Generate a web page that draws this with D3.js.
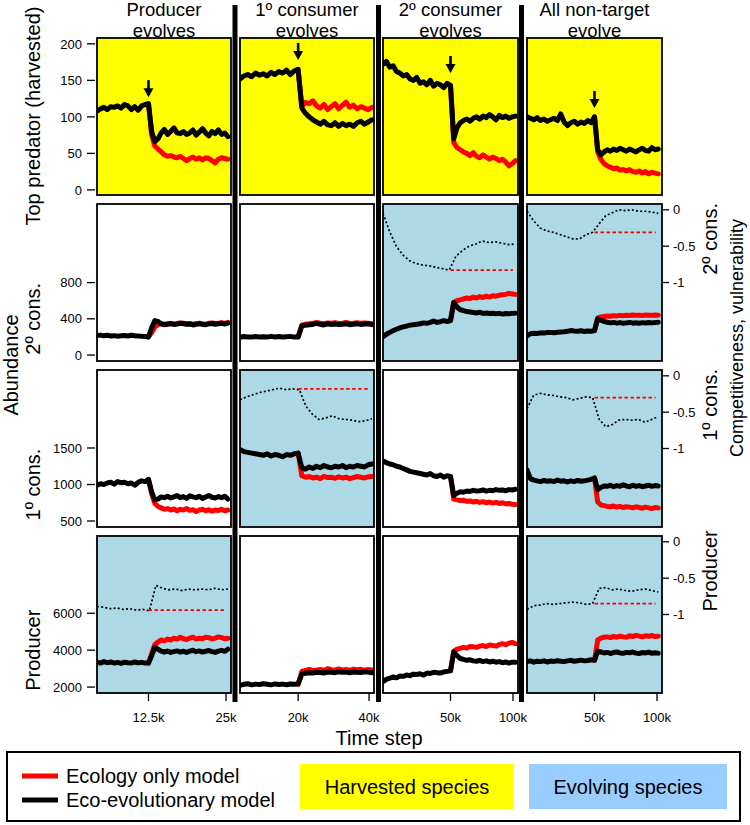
<!DOCTYPE html>
<html><head><meta charset="utf-8">
<script src="https://cdn.jsdelivr.net/npm/d3@7"></script>
<style>body{margin:0;background:#fff} text{font-family:"Liberation Sans", Arial, sans-serif;fill:#000}</style>
</head><body><svg id="c" width="750" height="825"></svg>
<script>
// ---------------- DATA ----------------
const colTitles = [["Producer","evolves"],["1º consumer","evolves"],["2º consumer","evolves"],["All non-target","evolve"]];
const leftRowLabels = ["Top predator (harvested)","2º cons.","1º cons.","Producer"];
const rightRowLabels = [null,"2º cons.","1º cons.","Producer"];
const timeStart = [4200, 3600, -4000, -4000];
const timePert  = [12500, 20000, 50000, 50000];
const timeEnd   = [25300, 40800, 102000, 101000];
const xDomains  = [[4200,25800],[3600,41400],[-4000,104000],[-4000,104000]];
const xTicks    = [[12500,25000],[20000,40000],[50000,100000],[50000,100000]];
const xTickLabels = [["12.5k","25k"],["20k","40k"],["50k","100k"],["50k","100k"]];
const yDomains  = [[-7,208],[-66,1668],[418,2568],[1679,10187]];
const yTicks    = [[0,50,100,150,200],[0,400,800],[500,1000,1500],[2000,4000,6000]];
const traitDomain = [-2.08,0.08];
const traitTicks = [0,-0.5,-1];
const traitTickLabels = ["0","-0.5","-1"];
// background: Y = harvested, B = evolving, W = none
const panelBg = [["Y","Y","Y","Y"],["W","W","B","B"],["W","B","W","B"],["B","W","W","B"]];
const arrowTip = [127,178,160,112];

// Top predator
const topPredPre = [
 [108,111,113,110,114,113,115,112,117,115,110,114,109,115,117,118],
 [152,156,158,155,160,157,159,156,161,158,162,160,164,158,163,165],
 [172,176,168,170,162,160,156,158,152,150,154,146,148,144,150,142,146,144,140,146,143],
 [100,98,96,99,95,97,94,96,98,95,104,93,88,92,94,90,93,91,95,92,100]];
const topPredEvo = [
 [118,80,66,70,78,83,76,80,85,78,77,80,76,78,82,75,79,84,78,74,80,77,82,76,78,73],
 [165,112,105,100,96,93,90,94,89,88,92,87,91,88,90,87,92,94,90,93,96],
 [143,70,85,92,95,97,94,98,100,97,101,99,103,100,96,102,99,101,98,100,101],
 [100,55,48,52,55,53,56,54,57,55,53,56,54,52,55,57,54,53,58,55,56]];
const topPredEco = [
 [118,75,60,56,52,48,46,47,45,44,46,43,40,43,45,42,44,41,44,43,40,37,42,44,43,42],
 [165,114,120,118,122,115,112,117,110,114,118,111,116,120,113,116,111,114,112,110,113],
 [143,65,58,55,52,50,47,51,46,44,48,45,42,45,43,40,42,38,33,36,40],
 [100,52,42,36,33,31,29,30,27,28,26,28,25,24,26,23,25,22,24,23,22]];
// 2nd consumer
const cons2Pre = [
 [215,220,212,218,210,214,208,212,216,210,218,213,210,206,205,200],
 [195,205,200,198,205,200,203,198,206,200,204,198,202,206,198,200],
 [200,230,250,270,285,300,310,320,330,335,340,345,355,350,360,375,360,368,380,370,380],
 [210,235,240,238,245,242,248,250,245,252,255,258,262,270,265,262,268,260,265,262,270]];
const cons2Evo = [
 [200,300,380,370,345,335,340,345,338,342,350,346,340,343,332,340,346,338,335,344,348,340,346,350,342,352],
 [200,320,330,335,338,350,340,332,345,338,342,336,340,345,335,340,346,338,342,345,335],
 [380,580,530,500,490,480,475,470,465,472,460,465,458,462,455,460,452,458,455,460,462],
 [270,400,385,370,362,355,360,352,358,350,355,360,352,356,350,358,354,360,355,358,362]];
const cons2Eco = [
 [200,250,310,335,345,340,345,350,342,348,355,350,345,348,340,347,352,345,340,350,355,348,352,358,350,360],
 [200,330,342,345,350,360,352,345,355,350,356,348,352,360,348,352,358,350,355,352,345],
 [380,580,600,610,620,630,625,640,630,645,635,650,640,655,650,660,665,670,680,675,670],
 [270,410,420,425,430,428,435,432,438,435,440,436,442,438,440,436,442,440,438,442,440]];
// 1st consumer
const cons1Pre = [
 [990,1010,1000,1020,1030,1005,1040,1025,1030,1010,1020,990,1030,1050,1040,1070],
 [1480,1450,1440,1430,1420,1410,1400,1420,1390,1410,1400,1380,1410,1400,1420,1430],
 [1320,1300,1280,1270,1250,1240,1220,1200,1180,1170,1160,1150,1140,1130,1150,1120,1110,1130,1100,1120,1110],
 [1200,1080,1060,1050,1040,1055,1045,1050,1040,1060,1045,1050,1035,1050,1040,1055,1045,1050,1060,1070,1090]];
const cons1Evo = [
 [1070,900,790,800,830,820,840,815,830,850,820,835,810,845,830,820,840,810,830,850,825,815,835,820,840,800],
 [1430,1230,1210,1240,1220,1250,1230,1260,1240,1230,1250,1240,1260,1230,1250,1240,1260,1250,1240,1270,1280],
 [1110,850,880,900,895,910,905,920,910,915,925,910,920,915,930,920,925,915,930,925,935],
 [1090,930,960,980,975,990,970,985,975,995,980,970,990,975,985,970,980,990,975,985,980]];
const cons1Eco = [
 [1070,870,740,700,680,660,670,650,665,640,660,650,670,645,655,630,650,660,640,655,635,650,645,660,640,650],
 [1430,1120,1100,1110,1090,1100,1080,1110,1095,1100,1085,1105,1090,1100,1080,1095,1110,1100,1090,1105,1110],
 [1110,800,790,780,785,770,775,760,770,755,765,750,760,745,755,740,750,735,740,730,725],
 [1090,760,720,710,700,695,705,690,700,685,695,690,680,695,685,675,690,680,670,685,680]];
// Producer
const prodPre = [
 [3350,3300,3380,3320,3360,3300,3340,3280,3350,3320,3300,3360,3310,3340,3300,3300],
 [2100,2150,2180,2120,2160,2140,2180,2150,2120,2170,2140,2160,2130,2170,2150,2160],
 [2300,2420,2480,2550,2500,2600,2580,2650,2620,2700,2680,2720,2650,2760,2740,2800,2780,2760,2820,2850,2880],
 [3380,3420,3350,3400,3380,3420,3360,3410,3390,3430,3400,3380,3420,3450,3400,3430,3460,3420,3440,3480,3450]];
const prodEvo = [
 [3300,3700,4150,4050,3950,3900,3950,3880,3920,3960,3900,3940,3880,3950,4000,3920,3960,3900,3940,3980,3920,3880,3950,3990,3940,4050],
 [2160,2700,2750,2780,2760,2800,2790,2760,2820,2800,2780,2830,2800,2810,2780,2820,2800,2790,2830,2810,2780],
 [2880,3900,3700,3550,3500,3450,3480,3420,3400,3450,3380,3420,3360,3400,3350,3380,3320,3360,3300,3350,3340],
 [3450,3950,3900,3850,3880,3820,3870,3900,3850,3830,3880,3860,3900,3840,3820,3870,3850,3890,3830,3860,3840]];
const prodEco = [
 [3300,3800,4300,4450,4550,4500,4600,4550,4650,4600,4700,4620,4580,4650,4700,4600,4650,4620,4700,4680,4600,4650,4720,4680,4620,4650],
 [2160,2850,2900,2950,2900,2920,2960,2900,3000,2940,2920,2980,2930,2950,2900,2970,2940,2960,2920,2950,2930],
 [2880,3950,4050,4100,4150,4120,4200,4180,4150,4220,4250,4200,4280,4250,4220,4300,4350,4300,4380,4420,4350],
 [3450,4550,4650,4700,4720,4680,4750,4700,4760,4720,4700,4780,4740,4800,4760,4720,4780,4750,4800,4740,4760]];
// Traits (competitiveness / vulnerability), evolving panels only
const traitCons2 = [null, null,
 [-0.05,-0.3,-0.5,-0.62,-0.7,-0.74,-0.76,-0.77,-0.79,-0.81,-0.83,-0.64,-0.56,-0.5,-0.47,-0.43,-0.45,-0.44,-0.46,-0.48,-0.47],
 [-0.02,-0.15,-0.25,-0.29,-0.31,-0.34,-0.37,-0.4,-0.4,-0.34,-0.31,-0.19,-0.08,-0.04,0.0,-0.01,0.0,-0.02,-0.02,-0.03,-0.05]];
const traitCons1 = [null,
 [-0.33,-0.29,-0.26,-0.23,-0.21,-0.19,-0.17,-0.19,-0.18,-0.19,-0.42,-0.53,-0.6,-0.58,-0.55,-0.59,-0.6,-0.61,-0.63,-0.62,-0.59],
 null,
 [-0.45,-0.27,-0.24,-0.26,-0.27,-0.29,-0.3,-0.33,-0.31,-0.29,-0.3,-0.6,-0.7,-0.67,-0.61,-0.6,-0.61,-0.6,-0.64,-0.6,-0.56]];
const traitProd = [
 [-0.89,-0.9,-0.92,-0.91,-0.93,-0.92,-0.94,-0.93,-0.95,-0.6,-0.64,-0.66,-0.65,-0.67,-0.65,-0.66,-0.65,-0.66,-0.64,-0.66,-0.65],
 null, null,
 [-0.93,-0.88,-0.87,-0.85,-0.86,-0.85,-0.84,-0.83,-0.84,-0.86,-0.85,-0.64,-0.63,-0.66,-0.65,-0.67,-0.68,-0.66,-0.65,-0.67,-0.69]];
const traitCons2Ref = [null,null,-0.83,-0.31];
const traitCons1Ref = [null,-0.18,null,-0.3];
const traitProdRef  = [-0.94,null,null,-0.85];

const legendLines = ["Ecology only model","Eco-evolutionary model"];
const legendBoxes = ["Harvested species","Evolving species"];

// ---------------- LAYOUT ----------------
const colLeft = [97,240,383,527], colWidth = [134,134,135,135];
const rowTop = [38,204,370,536], rowH = 157;
const sepX = [235,378.5,521.5];
const COL = {red:"#ff0000", black:"#000", yellow:"#ffff00", blue:"#add8e6", legendBlue:"#99ccff"};
const bgFill = {Y:COL.yellow, B:COL.blue, W:"#fff"};

const rowsPre = [topPredPre, cons2Pre, cons1Pre, prodPre];
const rowsEvo = [topPredEvo, cons2Evo, cons1Evo, prodEvo];
const rowsEco = [topPredEco, cons2Eco, cons1Eco, prodEco];
const rowsTrait = [null, traitCons2, traitCons1, traitProd];
const rowsTraitRef = [null, traitCons2Ref, traitCons1Ref, traitProdRef];

const svg = d3.select("#c");
const defs = svg.append("defs");

function pts(vals, t0, t1){ const n = vals.length; return vals.map((v,i)=>[t0+(t1-t0)*i/(n-1), v]); }

const xs = xDomains.map((d,c)=>d3.scaleLinear().domain(d).range([colLeft[c], colLeft[c]+colWidth[c]]));
const ys = yDomains.map((d,r)=>d3.scaleLinear().domain(d).range([rowTop[r]+rowH, rowTop[r]]));
const ts = rowTop.map(t=>d3.scaleLinear().domain(traitDomain).range([t+rowH, t]));

for (let r=0;r<4;r++){
  for (let c=0;c<4;c++){
    const x = xs[c], y = ys[r];
    const g = svg.append("g");
    const id = `clip${r}${c}`;
    defs.append("clipPath").attr("id",id).append("rect")
      .attr("x",colLeft[c]).attr("y",rowTop[r]).attr("width",colWidth[c]).attr("height",rowH);
    g.append("rect").attr("x",colLeft[c]).attr("y",rowTop[r]).attr("width",colWidth[c]).attr("height",rowH)
      .attr("fill",bgFill[panelBg[r][c]]);
    const inner = g.append("g").attr("clip-path",`url(#${id})`);
    // trait lines
    const tr = rowsTrait[r] && rowsTrait[r][c];
    if (tr){
      const tl = d3.line().x(d=>x(d[0])).y(d=>ts[r](d[1]));
      inner.append("path").attr("d", tl(pts(tr, timeStart[c], timeEnd[c])))
        .attr("fill","none").attr("stroke","#000").attr("stroke-width",1.7).attr("stroke-dasharray","2,2.2");
      const ref = rowsTraitRef[r][c];
      inner.append("path").attr("d", tl([[timePert[c],ref],[timeEnd[c]-(timeEnd[c]-timeStart[c])*0.02,ref]]))
        .attr("fill","none").attr("stroke",COL.red).attr("stroke-width",1.7).attr("stroke-dasharray","3.5,2.5");
    }
    const line = d3.line().x(d=>x(d[0])).y(d=>y(d[1]));
    const pre = pts(rowsPre[r][c], timeStart[c], timePert[c]);
    const evo = pts(rowsEvo[r][c], timePert[c], timeEnd[c]);
    const eco = pts(rowsEco[r][c], timePert[c], timeEnd[c]);
    inner.append("path").attr("d", line(eco)).attr("fill","none").attr("stroke",COL.red)
      .attr("stroke-width",5).attr("stroke-linejoin","round").attr("stroke-linecap","round");
    inner.append("path").attr("d", line(pre.concat(evo.slice(1)))).attr("fill","none").attr("stroke","#000")
      .attr("stroke-width",5).attr("stroke-linejoin","round").attr("stroke-linecap","round");
    // arrow on top predator row
    if (r===0){
      const ax = x(timePert[c]), tipY = y(arrowTip[c]);
      g.append("line").attr("x1",ax).attr("x2",ax).attr("y1",tipY-17).attr("y2",tipY-6)
        .attr("stroke","#000").attr("stroke-width",2.6);
      g.append("path").attr("d",`M${ax-5},${tipY-9}L${ax+5},${tipY-9}L${ax},${tipY}Z`).attr("fill","#000");
    }
    g.append("rect").attr("x",colLeft[c]).attr("y",rowTop[r]).attr("width",colWidth[c]).attr("height",rowH)
      .attr("fill","none").attr("stroke","#000").attr("stroke-width",1.8);
  }
  // left axis
  const ay = svg.append("g");
  yTicks[r].forEach(v=>{
    const yy = ys[r](v);
    ay.append("line").attr("x1",87).attr("x2",95).attr("y1",yy).attr("y2",yy).attr("stroke","#000").attr("stroke-width",1.3);
    ay.append("text").attr("x",82).attr("y",yy).attr("dy","0.36em").attr("text-anchor","end")
      .attr("font-size",13).text(v);
  });
  ay.append("text").attr("transform",`translate(40,${r===0?116:(ys[r](yTicks[r][0])+ys[r](yTicks[r][yTicks[r].length-1]))/2}) rotate(-90)`)
    .attr("text-anchor","middle").attr("font-size",20).text(leftRowLabels[r]);
  // right axis
  if (r>0){
    traitTicks.forEach((v,i)=>{
      const yy = ts[r](v);
      ay.append("line").attr("x1",662).attr("x2",669).attr("y1",yy).attr("y2",yy).attr("stroke","#000").attr("stroke-width",1.3);
      ay.append("text").attr("x",673).attr("y",yy).attr("dy","0.36em").attr("font-size",13).text(traitTickLabels[i]);
    });
    ay.append("text").attr("transform",`translate(717,${ts[r](-0.4)}) rotate(-90)`)
      .attr("text-anchor","middle").attr("font-size",20).text(rightRowLabels[r]);
  }
}
svg.append("text").attr("transform","translate(18,365) rotate(-90)").attr("text-anchor","middle")
  .attr("font-size",20).text("Abundance");
svg.append("text").attr("transform","translate(743,338) rotate(-90)").attr("text-anchor","middle")
  .attr("font-size",18).text("Competitiveness, vulnerability");

// column titles (two lines)
colTitles.forEach((t,c)=>{
  const cx = colLeft[c]+colWidth[c]/2;
  svg.append("text").attr("x",cx).attr("y",15.5).attr("text-anchor","middle").attr("font-size",18.5).text(t[0]);
  svg.append("text").attr("x",cx).attr("y",36.5).attr("text-anchor","middle").attr("font-size",18.5).text(t[1]);
});
// separators
sepX.forEach(sx=>svg.append("rect").attr("x",sx-2.5).attr("y",5).attr("width",5).attr("height",697).attr("fill","#000"));

// bottom axis
const bottom = rowTop[3]+rowH;
xTicks.forEach((tk,c)=>{
  tk.forEach((v,i)=>{
    const xx = xs[c](v);
    svg.append("line").attr("x1",xx).attr("x2",xx).attr("y1",bottom).attr("y2",bottom+8).attr("stroke","#000").attr("stroke-width",1.3);
    svg.append("text").attr("x",xx).attr("y",bottom+29).attr("text-anchor","middle").attr("font-size",13).text(xTickLabels[c][i]);
  });
});
svg.append("text").attr("x",379).attr("y",745).attr("text-anchor","middle").attr("font-size",20).text("Time step");

// legend
svg.append("rect").attr("x",7).attr("y",752).attr("width",733).attr("height",69).attr("fill","#fff")
  .attr("stroke","#000").attr("stroke-width",2);
[COL.red,"#000"].forEach((col,i)=>{
  const yy = 776+24*i;
  svg.append("line").attr("x1",22).attr("x2",58).attr("y1",yy).attr("y2",yy).attr("stroke",col).attr("stroke-width",5);
  svg.append("text").attr("x",66).attr("y",yy).attr("dy","0.36em").attr("font-size",20).text(legendLines[i]);
});
[[300,214,COL.yellow],[529,198,COL.legendBlue]].forEach((b,i)=>{
  svg.append("rect").attr("x",b[0]).attr("y",764).attr("width",b[1]).attr("height",45).attr("fill",b[2]);
  svg.append("text").attr("x",b[0]+b[1]/2).attr("y",787).attr("dy","0.36em").attr("text-anchor","middle")
    .attr("font-size",20).text(legendBoxes[i]);
});
</script></body></html>
